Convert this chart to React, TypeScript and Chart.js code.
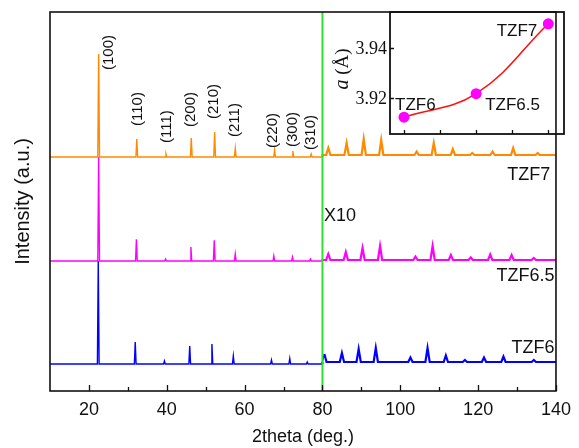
import React, { useEffect, useRef } from "react";
import { Chart, registerables } from "chart.js";

Chart.register(...registerables);

// ---------- main XRD chart data ----------
const X_MIN = 10;
const X_MAX = 140;
const Y_MAX = 379;
const BREAK_X = 80; // beyond this the patterns are magnified x10
const xTickValues = [20, 40, 60, 80, 100, 120, 140];
const xMinorTickValues = [30, 50, 70, 90, 110, 130];

const seriesNames = ["TZF7", "TZF6.5", "TZF6"];
const seriesColors = ["#ff8a00", "#ff00ff", "#0000ff"];
// vertical offsets of each pattern (below / above the x10 break)
const offsetLow = [234, 130, 27];
const offsetHigh = [236, 131, 29];

// TZF7 peaks (2theta, displayed intensity)
const tzf7Pos = [22.5, 32.3, 39.8, 46.3, 52.3, 57.6, 67.7, 72.4, 77.1, 81.5, 86.2, 90.6, 95.1, 104.2, 108.6, 113.5, 118.5, 123.7, 129.0, 135.3];
const tzf7Int = [103, 18, 3, 19, 25, 8.5, 7, 6, 3, 7, 12, 16, 15, 3.5, 12, 6, 2, 3.5, 7, 2];

// TZF6.5 peaks
const tzf65Pos = [22.5, 32.2, 39.7, 46.2, 52.2, 57.6, 67.5, 72.3, 76.9, 81.5, 86.0, 90.3, 94.8, 103.9, 108.3, 113.0, 118.1, 123.1, 128.6, 134.3];
const tzf65Int = [104, 21.7, 2, 14, 20.7, 7, 5, 4, 2, 6, 8, 12, 14, 3.5, 14, 5, 2.5, 5.5, 5, 2];

// TZF6 peaks
const tzf6Pos = [22.4, 31.9, 39.4, 45.9, 51.6, 57.1, 66.9, 71.6, 76.1, 80.5, 85.0, 89.3, 93.7, 102.6, 107.0, 111.7, 116.6, 121.5, 126.5, 134.3];
const tzf6Int = [103, 22, 3, 18, 20, 8, 4, 5.5, 2, 8, 9, 13, 14, 4.5, 14, 6.5, 2, 4.5, 5.5, 2];

const peakPositions = [tzf7Pos, tzf65Pos, tzf6Pos];
const peakIntensities = [tzf7Int, tzf65Int, tzf6Int];

// Miller index labels above the TZF7 pattern
const hklLabels = ["(100)", "(110)", "(111)", "(200)", "(210)", "(211)", "(220)", "(300)", "(310)"];
const hklX = [25.2, 32.5, 39.9, 46.3, 52.1, 57.4, 67.3, 72.3, 77.1];
const hklY = [321, 265, 248, 264, 272, 254, 243, 244, 241];

// sample labels on the main chart
const sampleLabelText = ["TZF7", "TZF6.5", "TZF6", "X10"];
const sampleLabelX = [138.5, 139.6, 139.6, 80.4];
const sampleLabelY = [211, 110, 38.3, 170];
const sampleLabelAlign = ["right", "right", "right", "left"];

// ---------- inset data ----------
const insetComposition = [6, 6.5, 7];
const insetLattice = [3.9124, 3.9218, 3.9497];
const insetNames = ["TZF6", "TZF6.5", "TZF7"];
const insetYTicks = [3.92, 3.94];
const insetXTicks = [6, 6.25, 6.5, 6.75, 7];

const SANS = "'Liberation Sans', Arial, sans-serif";
const SERIF = "'Liberation Serif', 'Times New Roman', serif";
const INK = "#111111";

function buildPattern(i: number) {
  const pos = peakPositions[i];
  const inten = peakIntensities[i];
  const pts: { x: number; y: number }[] = [];
  pts.push({ x: X_MIN, y: offsetLow[i] });
  let crossed = false;
  for (let k = 0; k < pos.length; k++) {
    const p = pos[k];
    const high = p > BREAK_X;
    if (high && !crossed) {
      pts.push({ x: BREAK_X, y: offsetLow[i] });
      pts.push({ x: BREAK_X, y: offsetHigh[i] });
      crossed = true;
    }
    const base = high ? offsetHigh[i] : offsetLow[i];
    const hw = high ? 0.55 : 0.22;
    pts.push({ x: p - hw, y: base });
    pts.push({ x: p, y: base + inten[k] });
    pts.push({ x: p + hw, y: base });
  }
  pts.push({ x: X_MAX, y: offsetHigh[i] });
  return pts;
}

const mainDecor = {
  id: "mainDecor",
  afterDatasetsDraw(chart: any) {
    const { ctx, chartArea: a, scales } = chart;
    const xs = scales.x;
    const ys = scales.y;
    ctx.save();
    // green separation line
    const gx = xs.getPixelForValue(BREAK_X);
    ctx.strokeStyle = "#2fe02f";
    ctx.lineWidth = 2;
    ctx.beginPath();
    ctx.moveTo(gx, a.top);
    ctx.lineTo(gx, a.bottom);
    ctx.stroke();
    // frame
    ctx.strokeStyle = INK;
    ctx.lineWidth = 1.6;
    ctx.strokeRect(a.left, a.top, a.right - a.left, a.bottom - a.top);
    // inward ticks
    ctx.lineWidth = 1.3;
    ctx.beginPath();
    xTickValues.forEach((v) => {
      const px = Math.round(xs.getPixelForValue(v)) + 0.5;
      ctx.moveTo(px, a.bottom);
      ctx.lineTo(px, a.bottom - 6);
    });
    xMinorTickValues.forEach((v) => {
      const px = Math.round(xs.getPixelForValue(v)) + 0.5;
      ctx.moveTo(px, a.bottom);
      ctx.lineTo(px, a.bottom - 4);
    });
    ctx.stroke();
    // hkl labels
    ctx.fillStyle = INK;
    ctx.font = `15px ${SANS}`;
    ctx.textAlign = "left";
    ctx.textBaseline = "middle";
    hklLabels.forEach((t, k) => {
      ctx.save();
      ctx.translate(xs.getPixelForValue(hklX[k]), ys.getPixelForValue(hklY[k]));
      ctx.rotate(-Math.PI / 2);
      ctx.fillText(t, 0, 0);
      ctx.restore();
    });
    // sample labels
    ctx.font = `18px ${SANS}`;
    ctx.textBaseline = "alphabetic";
    sampleLabelText.forEach((t, k) => {
      ctx.textAlign = sampleLabelAlign[k] as CanvasTextAlign;
      ctx.fillText(t, xs.getPixelForValue(sampleLabelX[k]), ys.getPixelForValue(sampleLabelY[k]));
    });
    ctx.restore();
  },
};

// label offsets relative to each inset point (pixels)
const insetLabelDx = [-9, 9, -11];
const insetLabelDy = [-7, 16, 12];
const insetLabelAlign = ["left", "left", "right"];

const insetDecor = {
  id: "insetDecor",
  afterDatasetsDraw(chart: any) {
    const { ctx, chartArea: a, scales } = chart;
    const xs = scales.x;
    const ys = scales.y;
    ctx.save();
    ctx.strokeStyle = INK;
    ctx.lineWidth = 1.8;
    ctx.strokeRect(a.left, a.top, a.right - a.left, a.bottom - a.top);
    ctx.lineWidth = 1.3;
    ctx.beginPath();
    insetXTicks.forEach((v) => {
      const px = Math.round(xs.getPixelForValue(v)) + 0.5;
      ctx.moveTo(px, a.bottom);
      ctx.lineTo(px, a.bottom - 4);
    });
    insetYTicks.forEach((v) => {
      const py = Math.round(ys.getPixelForValue(v)) + 0.5;
      ctx.moveTo(a.left, py);
      ctx.lineTo(a.left + 4, py);
    });
    ctx.stroke();
    ctx.fillStyle = INK;
    ctx.font = `18px ${SERIF}`;
    ctx.textAlign = "right";
    ctx.textBaseline = "middle";
    insetYTicks.forEach((v) => {
      ctx.fillText(v.toFixed(2), a.left - 3, ys.getPixelForValue(v) + 1);
    });
    // axis title: italic a (Å)
    ctx.save();
    ctx.translate(a.left - 47, (a.top + a.bottom) / 2 - 4);
    ctx.rotate(-Math.PI / 2);
    ctx.textBaseline = "middle";
    ctx.textAlign = "left";
    const part1 = "a";
    const part2 = " (Å)";
    ctx.font = `italic 20px ${SERIF}`;
    const w1 = ctx.measureText(part1).width;
    ctx.font = `19px ${SERIF}`;
    const w2 = ctx.measureText(part2).width;
    const start = -(w1 + w2) / 2;
    ctx.font = `italic 20px ${SERIF}`;
    ctx.fillText(part1, start, 0);
    ctx.font = `19px ${SERIF}`;
    ctx.fillText(part2, start + w1, 0);
    ctx.restore();
    // point labels
    ctx.font = `17px ${SANS}`;
    ctx.textBaseline = "alphabetic";
    insetNames.forEach((t, k) => {
      ctx.textAlign = insetLabelAlign[k] as CanvasTextAlign;
      const px = xs.getPixelForValue(insetComposition[k]) + insetLabelDx[k];
      const py = ys.getPixelForValue(insetLattice[k]) + insetLabelDy[k];
      ctx.fillText(t, px, py);
    });
    ctx.restore();
  },
};

export default function App() {
  const mainRef = useRef<HTMLCanvasElement | null>(null);
  const insetRef = useRef<HTMLCanvasElement | null>(null);

  useEffect(() => {
    const axisFont = { family: SANS, size: 18 };
    const main = new Chart(mainRef.current as HTMLCanvasElement, {
      type: "line",
      data: {
        datasets: seriesNames.map((n, i) => ({
          label: n,
          data: buildPattern(i),
          borderColor: seriesColors[i],
          borderWidth: 1.4,
          pointRadius: 0,
          tension: 0,
          fill: false,
          segment: {
            borderWidth: (c: any) => (c.p0.parsed.x >= BREAK_X ? 2.2 : 1.4),
          },
        })),
      },
      options: {
        animation: false,
        responsive: false,
        parsing: false as any,
        layout: { padding: { left: 0, right: 16, top: 12, bottom: 0 } },
        plugins: { legend: { display: false }, tooltip: { enabled: false } },
        scales: {
          x: {
            type: "linear",
            min: X_MIN,
            max: X_MAX,
            afterBuildTicks: (s: any) => {
              s.ticks = xTickValues.map((v) => ({ value: v }));
            },
            afterFit: (s: any) => {
              s.height = 57;
            },
            ticks: { font: axisFont, color: INK, padding: 8, maxRotation: 0, autoSkip: false },
            grid: { display: false, drawTicks: false },
            border: { display: false },
            title: { display: true, text: "2theta (deg.)", font: axisFont, color: INK, padding: { top: 0, bottom: 0 } },
          },
          y: {
            type: "linear",
            min: 0,
            max: Y_MAX,
            afterFit: (s: any) => {
              s.width = 50;
            },
            ticks: { display: false },
            grid: { display: false, drawTicks: false },
            border: { display: false },
            title: { display: true, text: "Intensity (a.u.)", font: { family: SANS, size: 20 }, color: INK, padding: { top: 11, bottom: 0 } },
          },
        },
      },
      plugins: [mainDecor],
    });

    const inset = new Chart(insetRef.current as HTMLCanvasElement, {
      type: "line",
      data: {
        datasets: [
          {
            label: "a",
            data: insetComposition.map((x, k) => ({ x, y: insetLattice[k] })),
            borderColor: "#ff1010",
            borderWidth: 1.6,
            tension: 0.4,
            pointRadius: 5.5,
            pointBackgroundColor: "#ff00ff",
            pointBorderColor: "#ff00ff",
            pointBorderWidth: 0,
            fill: false,
          },
        ],
      },
      options: {
        animation: false,
        responsive: false,
        layout: { padding: { left: 90, right: 15, top: 12, bottom: 16 } },
        plugins: { legend: { display: false }, tooltip: { enabled: false } },
        scales: {
          x: { type: "linear", min: 5.903, max: 7.109, display: false },
          y: { type: "linear", min: 3.9057, max: 3.9544, display: false },
        },
      },
      plugins: [insetDecor],
    });

    return () => {
      main.destroy();
      inset.destroy();
    };
  }, []);

  return (
    <div style={{ position: "fixed", left: 0, top: 0, width: 579, height: 448, background: "#ffffff" }}>
      <canvas ref={mainRef} width={579} height={448} style={{ position: "absolute", left: 0, top: 0, width: 579, height: 448 }} />
      <canvas ref={insetRef} width={279} height={150} style={{ position: "absolute", left: 300, top: 0, width: 279, height: 150 }} />
    </div>
  );
}
